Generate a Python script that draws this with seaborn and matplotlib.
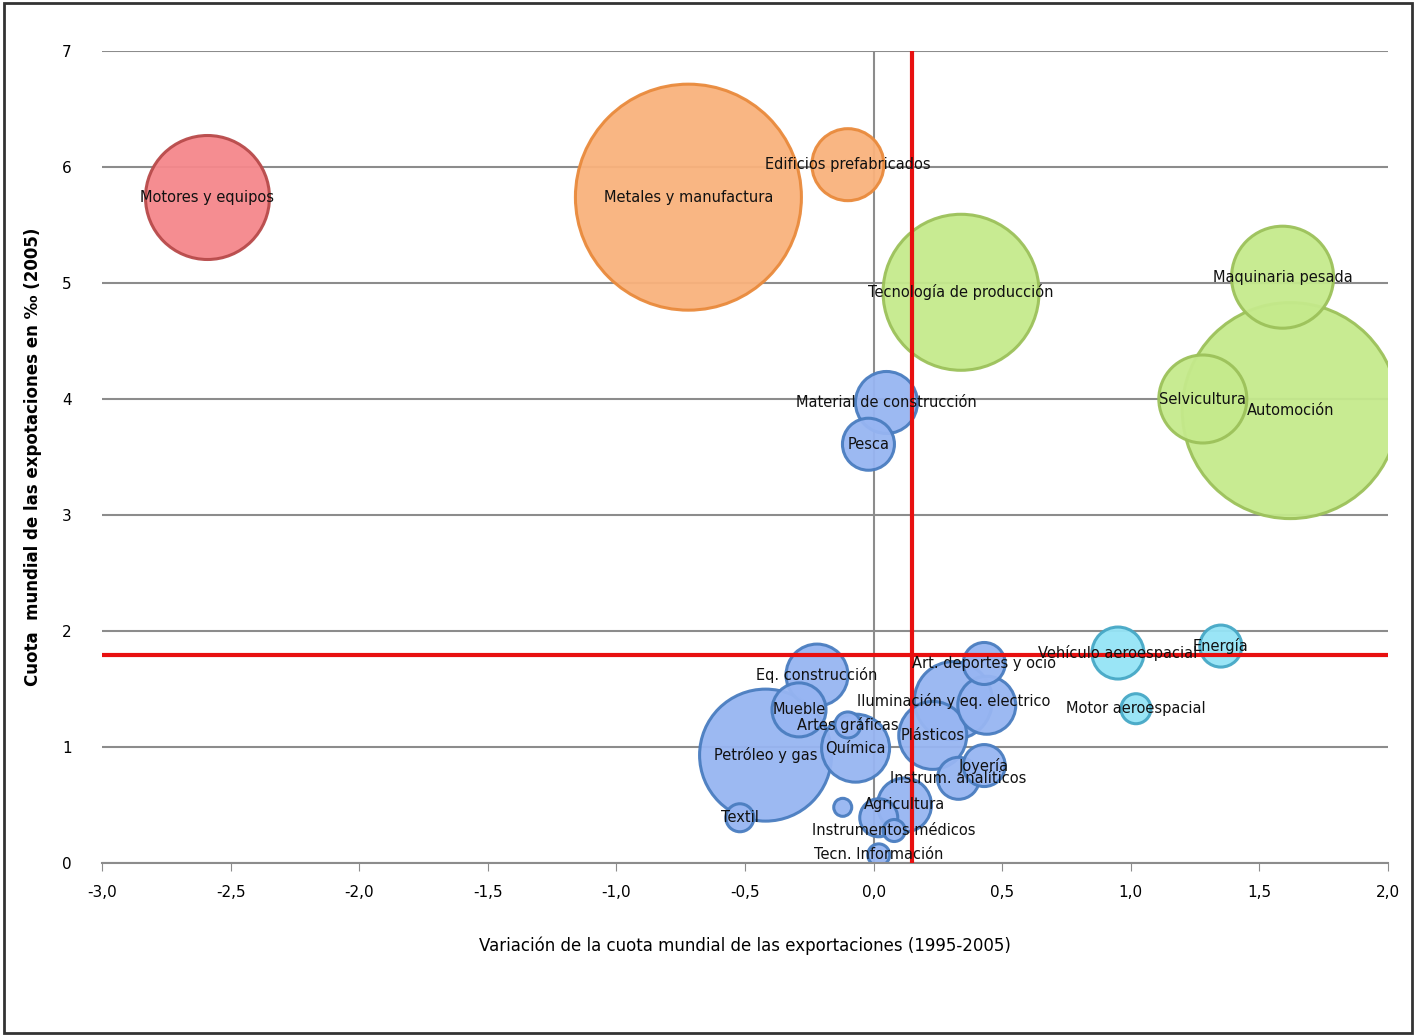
import numpy as np
import pandas as pd
import matplotlib
matplotlib.use("Agg")
import matplotlib.pyplot as plt
import seaborn as sns

sectors = ["Motores y equipos", "Metales y manufactura", "Edificios prefabricados",
           "Tecnología de producción", "Maquinaria pesada", "Automoción", "Selvicultura",
           "Material de construcción", "Pesca", "Vehículo aeroespacial", "Energía",
           "Motor aeroespacial", "Eq. construcción", "Art. deportes y ocio",
           "Iluminación y eq. electrico", "", "Mueble", "Petróleo y gas", "Química",
           "Artes gráficas", "Plásticos", "Joyería", "Instrum. analíticos", "Agricultura",
           "", "", "Textil", "Instrumentos médicos", "Tecn. Información"]
change = [-2.59, -0.72, -0.10, 0.34, 1.59, 1.62, 1.28, 0.05, -0.02, 0.95, 1.35, 1.02,
          -0.22, 0.43, 0.31, 0.44, -0.29, -0.42, -0.07, -0.10, 0.23, 0.43, 0.33, 0.12,
          0.02, -0.12, -0.52, 0.08, 0.02]
share = [5.74, 5.74, 6.02, 4.92, 5.05, 3.90, 4.00, 3.97, 3.61, 1.81, 1.87, 1.33,
         1.62, 1.72, 1.40, 1.36, 1.32, 0.93, 0.99, 1.19, 1.10, 0.84, 0.73, 0.50,
         0.39, 0.48, 0.39, 0.28, 0.07]
radius = [62, 113, 36, 78, 51, 108, 44, 31, 26, 26, 21, 15, 31, 21, 39, 29, 27, 66, 34,
          13, 34, 21, 21, 27, 19, 9, 14, 11, 11]
group = ["rojo", "naranja", "naranja", "verde", "verde", "verde", "verde", "azul", "azul",
         "cian", "cian", "cian"] + ["azul"] * 17

df = pd.DataFrame({"x": change, "y": share, "r": radius, "g": group, "label": sectors})
df["s"] = (2 * df["r"] * 0.72) ** 2
df = df.sort_values("r", ascending=False)

fills = {"rojo": "#f5878b", "naranja": "#f9b27c", "verde": "#c5ea8c",
         "azul": "#97b5f2", "cian": "#95e4f6"}
edges = {"rojo": "#b84a4a", "naranja": "#e98a3c", "verde": "#9cc15a",
         "azul": "#4a7dc0", "cian": "#46a8c6"}

fig = plt.figure(figsize=(14.16, 10.36), dpi=100)
ax = fig.add_axes([102 / 1416, 1 - 863 / 1036, 1286 / 1416, 812 / 1036])
fig.patches.append(plt.Rectangle((0.003, 0.003), 0.994, 0.994, transform=fig.transFigure,
                                 fill=False, edgecolor="#333333", linewidth=2))

ax.set_xlim(-3, 2)
ax.set_ylim(0, 7)
ax.set_yticks(range(0, 8))
ax.set_xticks(np.arange(-3, 2.01, 0.5))
ax.set_xticklabels([f"{v:.1f}".replace(".", ",") for v in np.arange(-3, 2.01, 0.5)])
ax.yaxis.grid(True, color="#8c8c8c", linewidth=1.5)
ax.set_axisbelow(True)
for side in ["top", "right", "left"]:
    ax.spines[side].set_visible(False)
ax.spines["bottom"].set_color("#8c8c8c")
ax.spines["bottom"].set_linewidth(1.5)
ax.tick_params(axis="y", length=0, labelsize=11, pad=22)
ax.tick_params(axis="x", length=6, color="#8c8c8c", labelsize=11, pad=10)
ax.axvline(0, color="#8c8c8c", linewidth=1.5, zorder=0)

for g in fills:
    sub = df[df["g"] == g]
    sns.scatterplot(data=sub, x="x", y="y", s=sub["s"].values, color=fills[g],
                    edgecolor=edges[g], linewidth=2.2, alpha=0.95, ax=ax,
                    legend=False, zorder=2)
for c in ax.collections:
    c.set_clip_on(True)
    c.set_clip_box(ax.bbox)

for _, row in df.iterrows():
    if row["label"]:
        ax.text(row["x"], row["y"], row["label"], ha="center", va="center",
                fontsize=10.5, color="#111111", zorder=4)

ax.axvline(0.15, color="#e81010", linewidth=3, zorder=3)
ax.axhline(1.79, color="#e81010", linewidth=3, zorder=3)

ax.set_xlabel("Variación de la cuota mundial de las exportaciones (1995-2005)",
              fontsize=12, labelpad=26)
ax.set_ylabel("Cuota  mundial de las expotaciones en ‰ (2005)", fontsize=12,
              fontweight="bold", labelpad=14)

fig.savefig("out.png", dpi=100)
